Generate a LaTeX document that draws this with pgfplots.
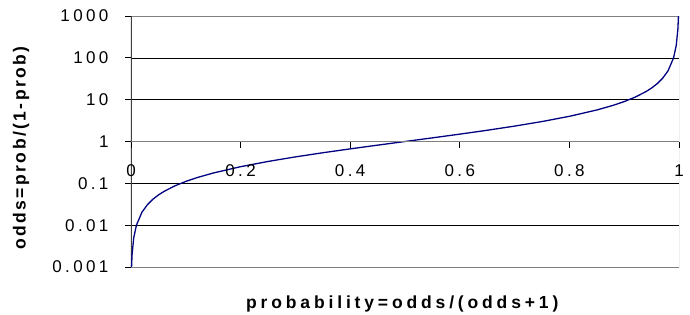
\documentclass[border=0pt]{standalone}
\usepackage{fontspec}
\setmainfont{Liberation Sans}
\newfontfamily\tickfont[LetterSpace=20]{Liberation Sans}
\newfontfamily\xlabfont[LetterSpace=22]{Liberation Sans}
\newfontfamily\ylabfont[LetterSpace=14]{Liberation Sans}
\usepackage{pgfplots}
\pgfplotsset{compat=1.18}
\definecolor{curve}{RGB}{0,0,128}
\definecolor{frame}{RGB}{128,128,128}
\pgfplotstableread{
p odds
0.001 0.001001
0.002 0.002004
0.005 0.005025
0.01 0.010101
0.02 0.020408
0.03 0.030928
0.04 0.041667
0.05 0.052632
0.06 0.06383
0.08 0.086957
0.1 0.111111
0.12 0.136364
0.15 0.176471
0.2 0.25
0.25 0.333333
0.3 0.428571
0.35 0.538462
0.4 0.666667
0.45 0.818182
0.5 1
0.55 1.222222
0.6 1.5
0.65 1.857143
0.7 2.333333
0.75 3
0.8 4
0.85 5.666667
0.88 7.333333
0.9 9
0.92 11.5
0.94 15.666667
0.95 19
0.96 24
0.97 32.333333
0.98 49
0.99 99
0.995 199
0.998 499
0.999 999
}\oddstable
\begin{document}
\begin{tikzpicture}
\begin{axis}[
  name=ax,
  scale only axis, width=548pt, height=251pt,
  xmin=0, xmax=1, ymode=log, ymin=0.001, ymax=1000,
  ytick={0.001,0.01,0.1,1,10,100,1000},
  yticklabels={0.001,0.01,0.1,1,10,100,1000},
  yminorticks=false,
  ytick pos=left,
  xtick=\empty,
  ymajorgrids,
  major grid style={black, line width=0.6pt},
  axis line style={draw=none},
  tick align=outside,
  major tick length=6pt,
  ytick style={black, line width=0.8pt},
  yticklabel style={font=\tickfont\fontsize{17}{17}\selectfont, anchor=east, xshift=-13pt},
  ylabel={\ylabfont\bfseries\fontsize{17.5}{17.5}\selectfont odds=prob/(1-prob)},
  ylabel style={at={([xshift=-110pt]rel axis cs:0,0.474)}, anchor=center},
  xlabel={\xlabfont\bfseries\fontsize{17.5}{17.5}\selectfont probability=odds/(odds+1)},
  xlabel style={at={([yshift=-41pt]rel axis cs:0.495,0)}, anchor=base},
]
\draw[frame, line width=1pt] (rel axis cs:0,1) -- (rel axis cs:1,1) -- (rel axis cs:1,0) -- (rel axis cs:0,0);
\draw[black!75, line width=1.5pt] (rel axis cs:0,0) -- (rel axis cs:0,1);
\addplot[curve, line width=1.3pt, no marks] table[x=p, y=odds] {\oddstable};
\end{axis}
\begin{axis}[
  scale only axis, width=548pt, height=251pt,
  xmin=0, xmax=1, ymin=-3, ymax=3,
  axis x line=middle, axis y line=none,
  x axis line style={-, frame, line width=1.2pt},
  xtick={0,0.2,0.4,0.6,0.8,1},
  xticklabels={0,0.2,0.4,0.6,0.8,1},
  hide obscured x ticks=false,
  tick align=outside,
  major tick length=6pt,
  xtick style={black, line width=0.8pt},
  xticklabel style={font=\tickfont\fontsize{17}{17}\selectfont, anchor=base, yshift=-29pt},
]
\end{axis}
\pgfresetboundingbox
\path[use as bounding box] ([shift={(-131pt,-47pt)}]ax.south west) rectangle ([shift={(11pt,16pt)}]ax.north east);
\end{tikzpicture}
\end{document}
